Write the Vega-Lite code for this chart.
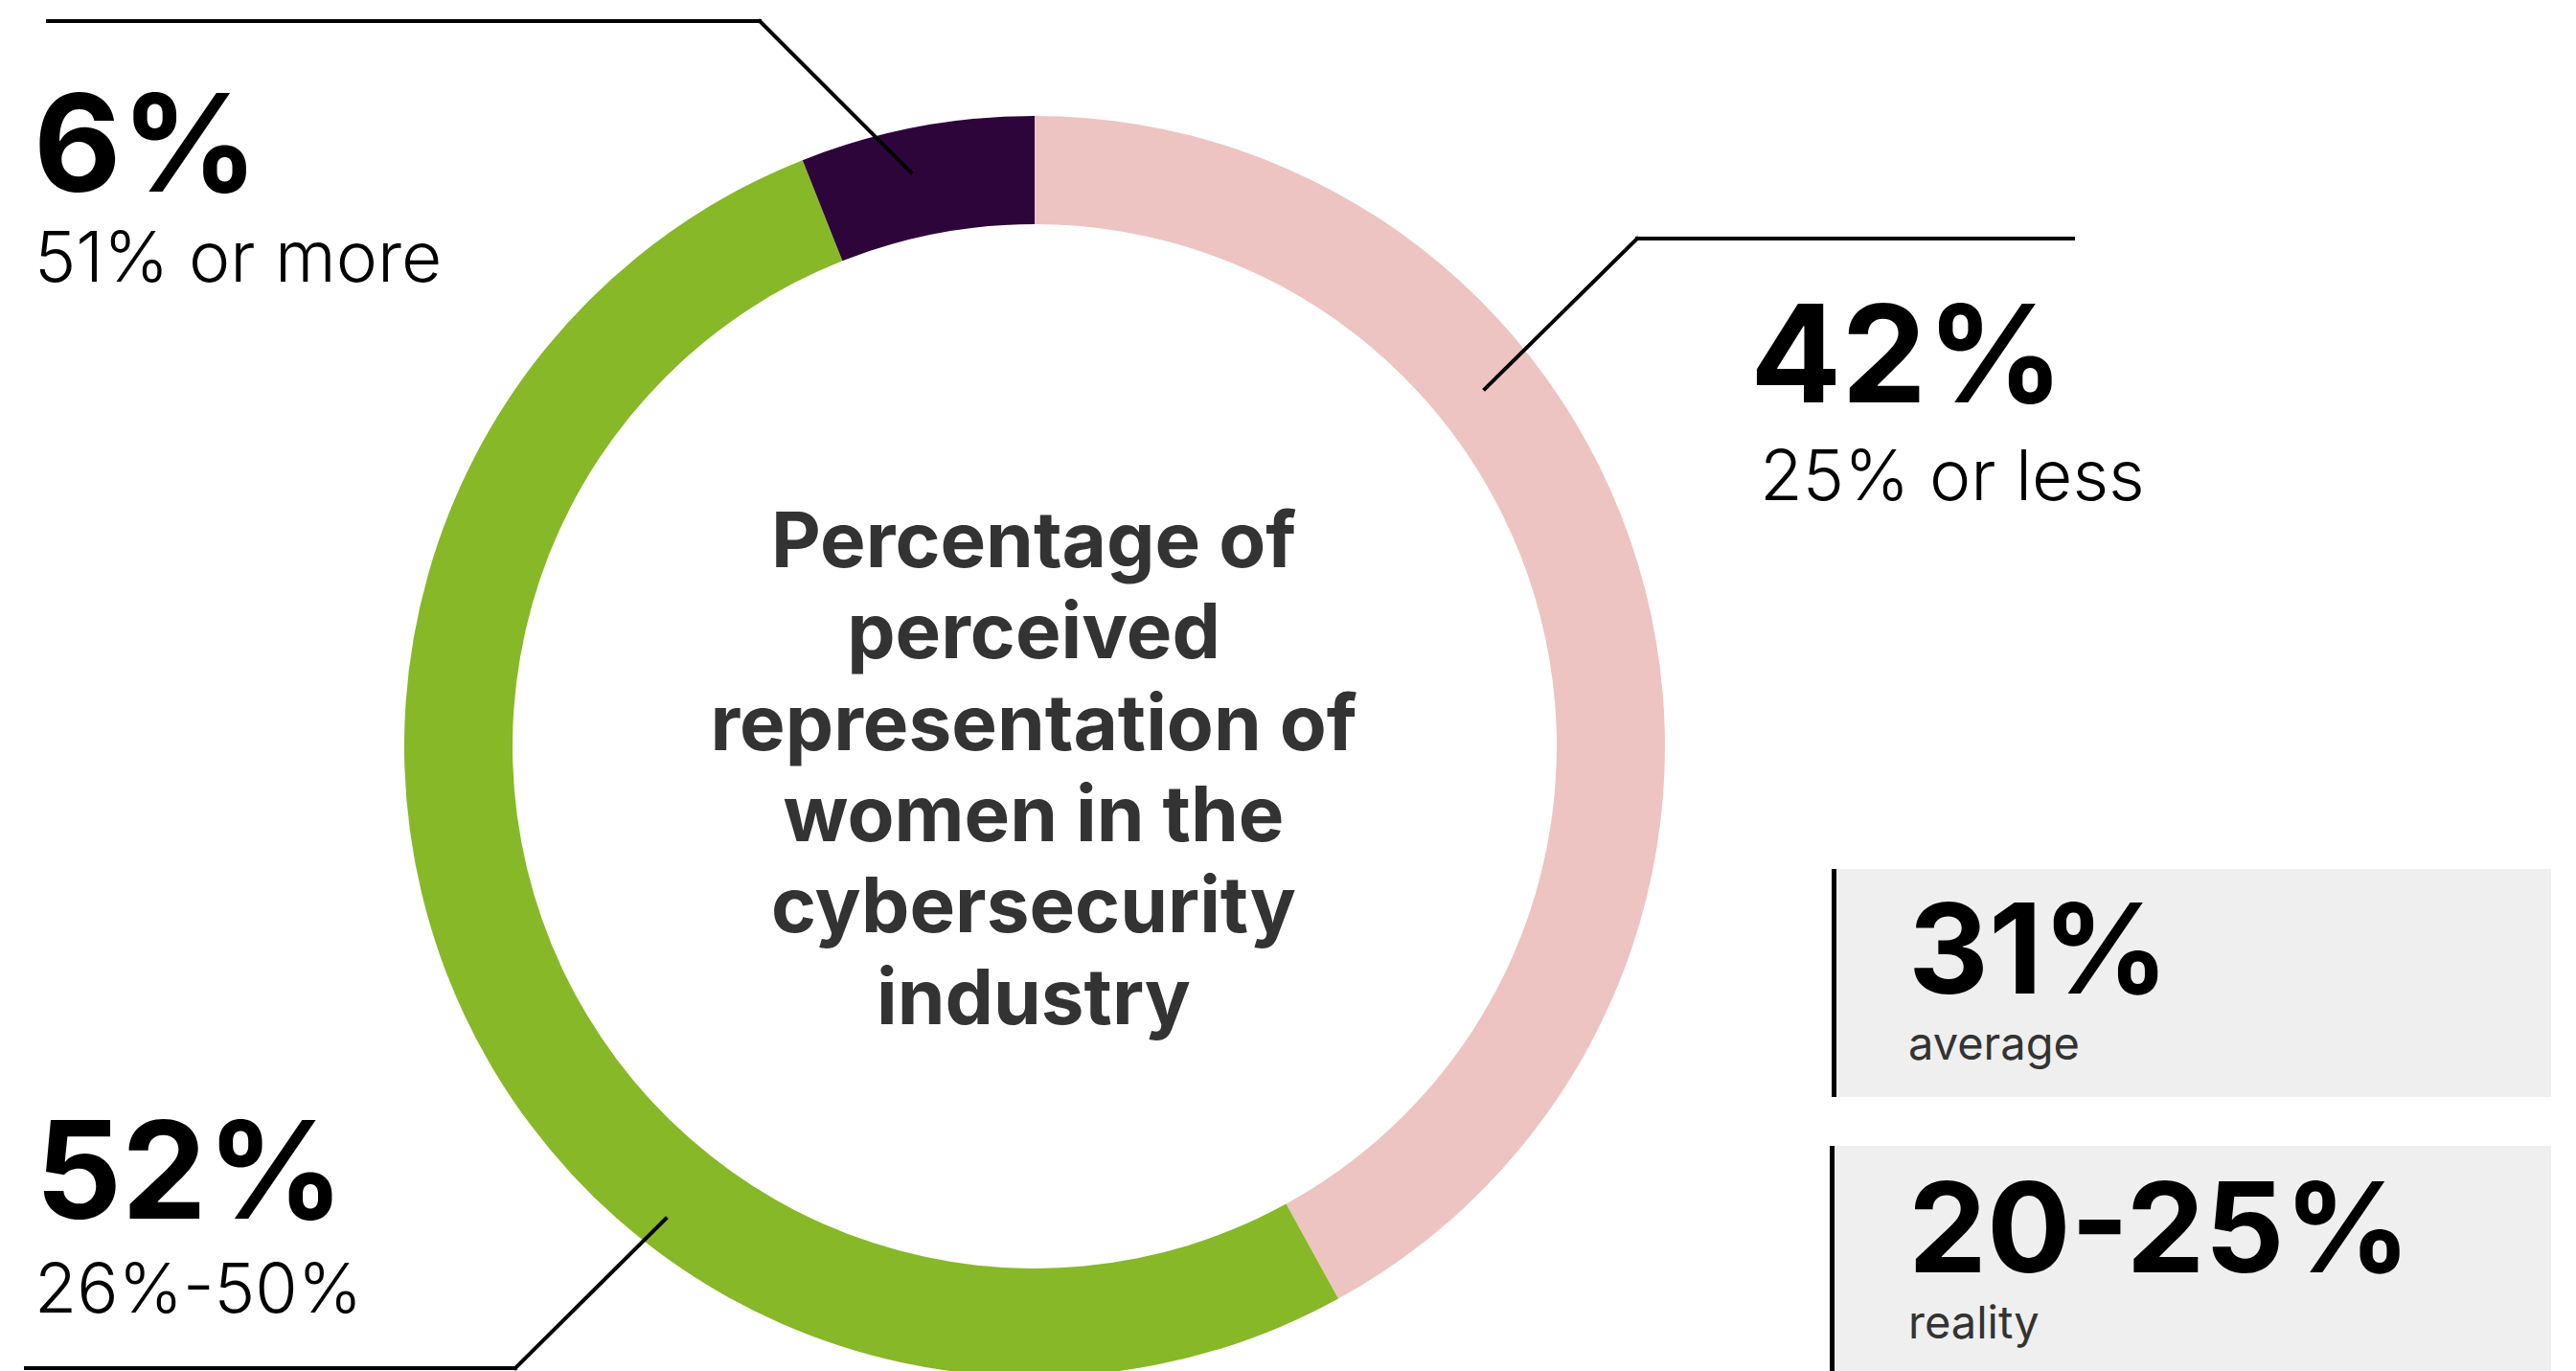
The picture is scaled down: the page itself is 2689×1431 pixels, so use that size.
{
  "$schema": "https://vega.github.io/schema/vega-lite/v6.json",
  "autosize": {"type": "none"},
  "width": 2689,
  "height": 1431,
  "padding": 0,
  "background": "#ffffff",
  "config": {"view": {"stroke": null}},
  "datasets": {
    "slices": [
      {"category": "25% or less", "share": 0.42},
      {"category": "26%-50%", "share": 0.52},
      {"category": "51% or more", "share": 0.06}
    ],
    "stats": [
      {"label": "average", "value": "31%"},
      {"label": "reality", "value": "20-25%"}
    ]
  },
  "layer": [
    {
      "data": {"name": "stats"},
      "transform": [{"filter": "datum.label === 'average'"}],
      "mark": {"type": "rect", "color": "#efefef"},
      "encoding": {
        "x": {"datum": 1917, "type": "quantitative", "scale": {"domain": [0, 2689], "nice": false, "zero": false}, "axis": null},
        "x2": {"datum": 2663},
        "y": {"datum": 907, "type": "quantitative", "scale": {"domain": [0, 1431], "nice": false, "zero": false, "reverse": true}, "axis": null},
        "y2": {"datum": 1145}
      }
    },
    {
      "data": {"name": "stats"},
      "transform": [{"filter": "datum.label === 'reality'"}],
      "mark": {"type": "rect", "color": "#efefef"},
      "encoding": {
        "x": {"datum": 1915, "type": "quantitative", "axis": null},
        "x2": {"datum": 2663},
        "y": {"datum": 1196, "type": "quantitative", "axis": null},
        "y2": {"datum": 1431}
      }
    },
    {
      "data": {"name": "stats"},
      "transform": [{"filter": "datum.label === 'average'"}],
      "mark": {"type": "rect", "color": "#000000"},
      "encoding": {
        "x": {"datum": 1912, "type": "quantitative", "axis": null},
        "x2": {"datum": 1917},
        "y": {"datum": 907, "type": "quantitative", "axis": null},
        "y2": {"datum": 1145}
      }
    },
    {
      "data": {"name": "stats"},
      "transform": [{"filter": "datum.label === 'reality'"}],
      "mark": {"type": "rect", "color": "#000000"},
      "encoding": {
        "x": {"datum": 1910, "type": "quantitative", "axis": null},
        "x2": {"datum": 1915},
        "y": {"datum": 1196, "type": "quantitative", "axis": null},
        "y2": {"datum": 1431}
      }
    },
    {
      "data": {"name": "slices"},
      "mark": {"type": "arc", "outerRadius": 658, "innerRadius": 545},
      "encoding": {
        "x": {"datum": 1080, "type": "quantitative", "axis": null},
        "y": {"datum": 779, "type": "quantitative", "axis": null},
        "theta": {"field": "share", "type": "quantitative", "stack": true},
        "order": {"field": "category", "type": "ordinal", "sort": "ascending"},
        "color": {
          "field": "category",
          "type": "nominal",
          "scale": {"domain": ["25% or less", "26%-50%", "51% or more"], "range": ["#EDC4C1", "#87B827", "#2E053A"]},
          "legend": null
        }
      }
    },
    {
      "data": {"name": "slices"},
      "transform": [{"filter": "datum.category === '51% or more'"}],
      "mark": {"type": "rule", "color": "#000000", "strokeWidth": 4, "strokeCap": "square"},
      "encoding": {
        "x": {"datum": 50, "type": "quantitative", "axis": null},
        "x2": {"datum": 793},
        "y": {"datum": 22, "type": "quantitative", "axis": null},
        "y2": {"datum": 22}
      }
    },
    {
      "data": {"name": "slices"},
      "transform": [{"filter": "datum.category === '51% or more'"}],
      "mark": {"type": "rule", "color": "#000000", "strokeWidth": 4, "strokeCap": "square"},
      "encoding": {
        "x": {"datum": 793, "type": "quantitative", "axis": null},
        "x2": {"datum": 951},
        "y": {"datum": 22, "type": "quantitative", "axis": null},
        "y2": {"datum": 180}
      }
    },
    {
      "data": {"name": "slices"},
      "transform": [{"filter": "datum.category === '25% or less'"}],
      "mark": {"type": "rule", "color": "#000000", "strokeWidth": 4, "strokeCap": "square"},
      "encoding": {
        "x": {"datum": 1709, "type": "quantitative", "axis": null},
        "x2": {"datum": 2164},
        "y": {"datum": 249, "type": "quantitative", "axis": null},
        "y2": {"datum": 249}
      }
    },
    {
      "data": {"name": "slices"},
      "transform": [{"filter": "datum.category === '25% or less'"}],
      "mark": {"type": "rule", "color": "#000000", "strokeWidth": 4, "strokeCap": "square"},
      "encoding": {
        "x": {"datum": 1709, "type": "quantitative", "axis": null},
        "x2": {"datum": 1550},
        "y": {"datum": 249, "type": "quantitative", "axis": null},
        "y2": {"datum": 406}
      }
    },
    {
      "data": {"name": "slices"},
      "transform": [{"filter": "datum.category === '26%-50%'"}],
      "mark": {"type": "rule", "color": "#000000", "strokeWidth": 4, "strokeCap": "square"},
      "encoding": {
        "x": {"datum": 27, "type": "quantitative", "axis": null},
        "x2": {"datum": 538},
        "y": {"datum": 1428, "type": "quantitative", "axis": null},
        "y2": {"datum": 1428}
      }
    },
    {
      "data": {"name": "slices"},
      "transform": [{"filter": "datum.category === '26%-50%'"}],
      "mark": {"type": "rule", "color": "#000000", "strokeWidth": 4, "strokeCap": "square"},
      "encoding": {
        "x": {"datum": 538, "type": "quantitative", "axis": null},
        "x2": {"datum": 695},
        "y": {"datum": 1428, "type": "quantitative", "axis": null},
        "y2": {"datum": 1272}
      }
    },
    {
      "data": {"name": "slices"},
      "transform": [{"filter": "datum.category === '51% or more'"}],
      "mark": {"type": "text", "font": "Inter", "fontWeight": 700, "fontSize": 141, "align": "left", "baseline": "alphabetic", "color": "#000000"},
      "encoding": {
        "x": {"datum": 35, "type": "quantitative", "axis": null},
        "y": {"datum": 200, "type": "quantitative", "axis": null},
        "text": {"field": "share", "type": "quantitative", "format": ".0%"}
      }
    },
    {
      "data": {"name": "slices"},
      "transform": [{"filter": "datum.category === '51% or more'"}],
      "mark": {"type": "text", "font": "Inter", "fontWeight": 300, "fontSize": 73, "align": "left", "baseline": "alphabetic", "color": "#000000"},
      "encoding": {
        "x": {"datum": 36, "type": "quantitative", "axis": null},
        "y": {"datum": 294, "type": "quantitative", "axis": null},
        "text": {"field": "category", "type": "nominal"}
      }
    },
    {
      "data": {"name": "slices"},
      "transform": [{"filter": "datum.category === '25% or less'"}],
      "mark": {"type": "text", "font": "Inter", "fontWeight": 700, "fontSize": 141, "align": "left", "baseline": "alphabetic", "color": "#000000"},
      "encoding": {
        "x": {"datum": 1827, "type": "quantitative", "axis": null},
        "y": {"datum": 420, "type": "quantitative", "axis": null},
        "text": {"field": "share", "type": "quantitative", "format": ".0%"}
      }
    },
    {
      "data": {"name": "slices"},
      "transform": [{"filter": "datum.category === '25% or less'"}],
      "mark": {"type": "text", "font": "Inter", "fontWeight": 300, "fontSize": 73, "align": "left", "baseline": "alphabetic", "color": "#000000"},
      "encoding": {
        "x": {"datum": 1837, "type": "quantitative", "axis": null},
        "y": {"datum": 522, "type": "quantitative", "axis": null},
        "text": {"field": "category", "type": "nominal"}
      }
    },
    {
      "data": {"name": "slices"},
      "transform": [{"filter": "datum.category === '26%-50%'"}],
      "mark": {"type": "text", "font": "Inter", "fontWeight": 700, "fontSize": 141, "align": "left", "baseline": "alphabetic", "color": "#000000"},
      "encoding": {
        "x": {"datum": 37, "type": "quantitative", "axis": null},
        "y": {"datum": 1272, "type": "quantitative", "axis": null},
        "text": {"field": "share", "type": "quantitative", "format": ".0%"}
      }
    },
    {
      "data": {"name": "slices"},
      "transform": [{"filter": "datum.category === '26%-50%'"}],
      "mark": {"type": "text", "font": "Inter", "fontWeight": 300, "fontSize": 72, "align": "left", "baseline": "alphabetic", "color": "#000000"},
      "encoding": {
        "x": {"datum": 36, "type": "quantitative", "axis": null},
        "y": {"datum": 1370, "type": "quantitative", "axis": null},
        "text": {"field": "category", "type": "nominal"}
      }
    },
    {
      "data": {"name": "stats"},
      "transform": [{"filter": "datum.label === 'average'"}],
      "mark": {"type": "text", "font": "Inter", "fontWeight": 700, "fontSize": 130, "align": "left", "baseline": "alphabetic", "color": "#000000"},
      "encoding": {
        "x": {"datum": 1992, "type": "quantitative", "axis": null},
        "y": {"datum": 1037, "type": "quantitative", "axis": null},
        "text": {"field": "value", "type": "nominal"}
      }
    },
    {
      "data": {"name": "stats"},
      "transform": [{"filter": "datum.label === 'average'"}],
      "mark": {"type": "text", "font": "Inter", "fontWeight": 400, "fontSize": 47, "align": "left", "baseline": "alphabetic", "color": "#333333"},
      "encoding": {
        "x": {"datum": 1992, "type": "quantitative", "axis": null},
        "y": {"datum": 1106, "type": "quantitative", "axis": null},
        "text": {"field": "label", "type": "nominal"}
      }
    },
    {
      "data": {"name": "stats"},
      "transform": [{"filter": "datum.label === 'reality'"}],
      "mark": {"type": "text", "font": "Inter", "fontWeight": 700, "fontSize": 130, "align": "left", "baseline": "alphabetic", "color": "#000000"},
      "encoding": {
        "x": {"datum": 1992, "type": "quantitative", "axis": null},
        "y": {"datum": 1328, "type": "quantitative", "axis": null},
        "text": {"field": "value", "type": "nominal"}
      }
    },
    {
      "data": {"name": "stats"},
      "transform": [{"filter": "datum.label === 'reality'"}],
      "mark": {"type": "text", "font": "Inter", "fontWeight": 400, "fontSize": 47, "align": "left", "baseline": "alphabetic", "color": "#333333"},
      "encoding": {
        "x": {"datum": 1992, "type": "quantitative", "axis": null},
        "y": {"datum": 1397, "type": "quantitative", "axis": null},
        "text": {"field": "label", "type": "nominal"}
      }
    },
    {
      "data": {"values": [{"title": "Percentage of perceived representation of women in the cybersecurity industry"}]},
      "mark": {
        "type": "text",
        "font": "Inter",
        "fontWeight": 700,
        "fontSize": 80,
        "align": "center",
        "baseline": "alphabetic",
        "lineHeight": 95.3,
        "color": "#333333",
        "text": ["Percentage of", "perceived", "representation of", "women in the", "cybersecurity", "industry"]
      },
      "encoding": {
        "x": {"datum": 1079, "type": "quantitative", "axis": null},
        "y": {"datum": 592, "type": "quantitative", "axis": null}
      }
    }
  ]
}
